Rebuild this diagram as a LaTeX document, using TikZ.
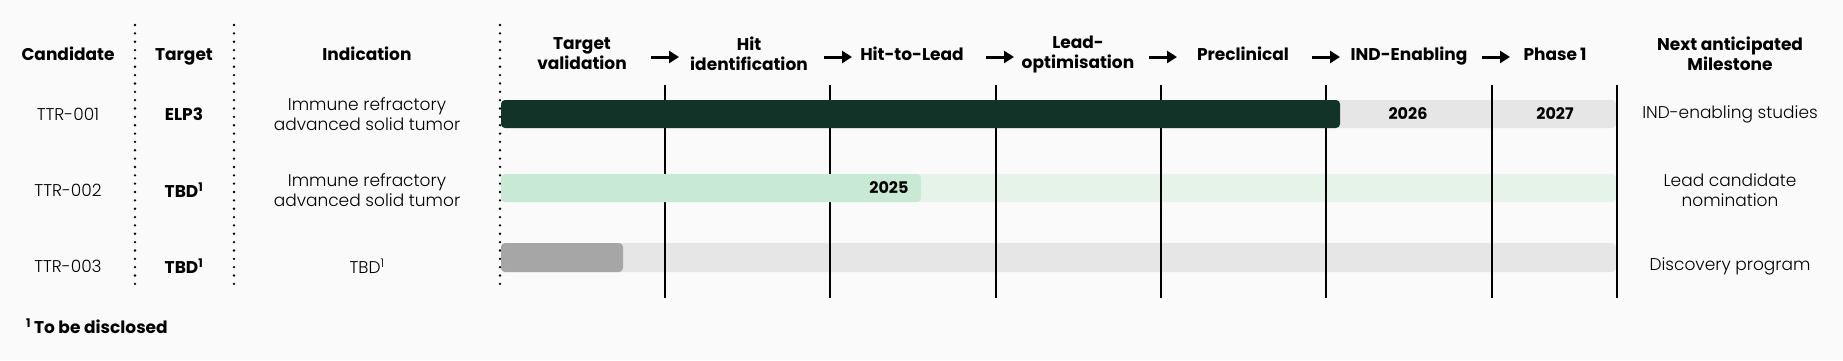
\documentclass[tikz,border=0pt]{standalone}
\usepackage{fontspec}
\setmainfont{Poppins}
\newfontfamily\lightfont{Poppins Light}
\usetikzlibrary{arrows.meta}

\definecolor{pageback}{HTML}{FAFAFA}
\definecolor{darkgreen}{HTML}{123328}
\definecolor{midgreen}{HTML}{C8EAD5}
\definecolor{palegreen}{HTML}{E5F3E9}
\definecolor{midgrey}{HTML}{A6A6A6}
\definecolor{palegrey}{HTML}{E6E6E6}

\tikzset{
  headtxt/.style={font=\fontsize{17}{20}\selectfont\bfseries, align=center},
  oneline/.style={text height=14pt, text depth=2pt},
  celltxt/.style={font=\fontsize{17}{20}\selectfont\lightfont, align=center},
  boldcell/.style={font=\fontsize{17}{20}\selectfont\bfseries, align=center},
  yeartxt/.style={font=\fontsize{16}{19}\selectfont\bfseries},
  stageline/.style={line width=2pt},
  dotline/.style={line width=2.6pt, line cap=round, dash pattern=on 0pt off 8.35pt},
  stagearrow/.style={line width=3pt, -{Triangle[length=10pt,width=12pt]}},
  bar/.style={rounded corners=4pt},
}

\begin{document}
\begin{tikzpicture}[x=1pt, y=-1pt]

  % ───────── Page background (1843 x 360 px) ─────────
  \fill[pageback] (0,0) rectangle (1843,360);
  \useasboundingbox (0,0) rectangle (1843,360);

  % ───────── Row backgrounds ─────────
  \fill[bar, palegrey]  (501,100) rectangle (1616,128);
  \fill[bar, palegreen] (501,174) rectangle (1616,202);
  \fill[bar, palegrey]  (501,243) rectangle (1616,272);

  % ───────── Column separators ─────────
  % dotted ones between the text columns
  \foreach \x in {135,234,500}
    \draw[dotline] (\x,25) -- (\x,292);
  % solid ones between the stages
  \foreach \x in {665,830,996,1161,1326,1492,1617}
    \draw[stageline] (\x,85) -- (\x,298);

  % ───────── Progress bars ─────────
  \fill[bar, darkgreen] (501,100) rectangle (1340,128);
  \fill[bar, midgreen]  (501,174) rectangle (921,202);
  \fill[bar, midgrey]   (501,243) rectangle (623,272);

  % ───────── Header ─────────
  \node[headtxt, oneline] (hcand)   at (68,54)   {Candidate};
  \node[headtxt, oneline] (htarget) at (184,54)  {Target};
  \node[headtxt, oneline] (hind)    at (367,54)  {Indication};
  \node[headtxt] (hnext) at (1730,54) {Next anticipated\\Milestone};
  \foreach \x/\id/\txt in {582/tv/{Target\\validation},
                           749/hi/{Hit\\identification},
                           1078/lo/{Lead-\\optimisation}}
    \node[headtxt] (\id) at (\x,54) {\txt};
  \foreach \x/\id/\txt in {912/hl/{Hit-to-Lead},
                           1243/pc/{Preclinical},
                           1409/ie/{IND-Enabling},
                           1555/ph/{Phase\,1}}
    \node[headtxt, oneline] (\id) at (\x,54) {\txt};

  % arrows between the stages
  \foreach \x [count=\i] in {651,824,986,1149,1312,1482} {
    \coordinate (a\i) at (\x,57);
    \coordinate (b\i) at (\x+28,57);
    \draw[stagearrow] (a\i) -- (b\i);
  }

  % ───────── Rows ─────────
  % TTR-001
  \node[celltxt] (cand1) at (68,114)   {TTR-001};
  \node[boldcell] (targ1) at (184,114) {ELP3};
  \node[celltxt] (ind1)  at (367,114)  {Immune refractory\\advanced solid tumor};
  \node[celltxt] (next1) at (1730,114) {IND-enabling studies};
  \node[yeartxt] (y2026) at (1408,114) {2026};
  \node[yeartxt] (y2027) at (1555,114) {2027};

  % TTR-002
  \node[celltxt] (cand2) at (68,190)   {TTR-002};
  \node[boldcell] (targ2) at (184,190) {TBD\textsuperscript{1}};
  \node[celltxt] (ind2)  at (367,190)  {Immune refractory\\advanced solid tumor};
  \node[celltxt] (next2) at (1730,190) {Lead candidate\\nomination};
  \node[yeartxt, anchor=east] (y2025) at (912,188) {2025};

  % TTR-003
  \node[celltxt] (cand3) at (68,266)   {TTR-003};
  \node[boldcell] (targ3) at (184,266) {TBD\textsuperscript{1}};
  \node[celltxt] (ind3)  at (367,266)  {TBD\textsuperscript{1}};
  \node[celltxt] (next3) at (1730,266) {Discovery program};

  % ───────── Footnote ─────────
  \node[headtxt, anchor=west, inner sep=0pt] (fnote) at (26,326) {\textsuperscript{1}\,To be disclosed};

\end{tikzpicture}
\end{document}
